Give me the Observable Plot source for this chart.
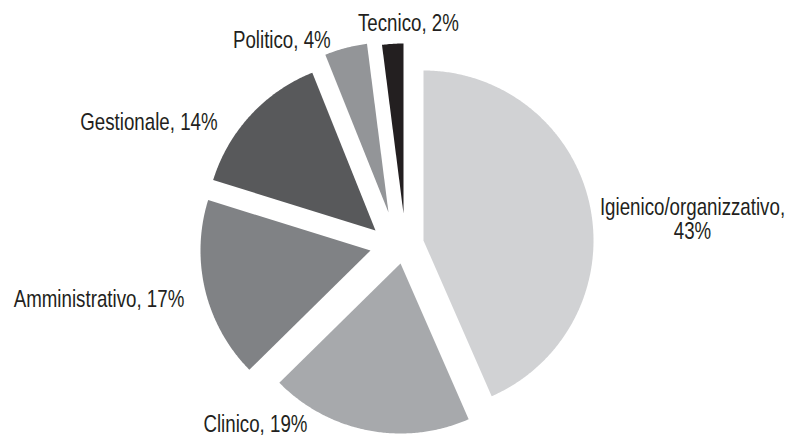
<!DOCTYPE html>
<html><head><meta charset="utf-8">
<script src="https://cdn.jsdelivr.net/npm/d3@7"></script>
<script src="https://cdn.jsdelivr.net/npm/@observablehq/plot@0.6"></script>
<style>
html,body{margin:0;padding:0;background:#fff;}
#chart svg{display:block;}
</style>
</head><body><div id="chart"></div>
<script>
// ---- data ----
const categories = ["Igienico/organizzativo", "Clinico", "Amministrativo", "Gestionale", "Politico", "Tecnico"];
const percentages = [43, 19, 17, 14, 4, 2];
const labels = ["Igienico/organizzativo,\n43%", "Clinico, 19%", "Amministrativo, 17%", "Gestionale, 14%", "Politico, 4%", "Tecnico, 2%"];

// ---- style / layout ----
const colors = ["#d1d2d4", "#a7a9ac", "#808285", "#58595b", "#939598", "#231f20"];
const W = 786, H = 435;
const CX = 400, CY = 246, R = 170;
// exploded-slice offsets (px) from the pie centre
const explode = [[23, -6], [0, 17], [-30, 4], [-25, -16], [-12, -34], [3, -33]];
// label offsets (px) from each slice's outer mid-arc point
const labelNudge = [[102.6, 13.7], [-112.9, -6], [-106.3, 8.3], [-101.7, 6.7], [-64, -8.1], [15.7, -21]];
const FONT = "'Liberation Sans', Arial, Helvetica, sans-serif";
const FS = 24;
const CONDENSE = 0.78;

const rows = categories.map((name, i) => ({name, value: percentages[i], label: labels[i], i}));
const arcs = d3.pie().sort(null).value(d => d.value).startAngle(0).endAngle(2 * Math.PI)(rows);

const pts = [];
const labelRows = [];
arcs.forEach(a => {
  const i = a.data.i;
  const mid = (a.startAngle + a.endAngle) / 2;
  const [ox, oy] = explode[i];
  pts.push({name: a.data.name, x: ox, y: oy});
  const n = Math.max(2, Math.ceil((a.endAngle - a.startAngle) / (Math.PI / 360)));
  for (let k = 0; k <= n; k++) {
    const t = a.startAngle + (a.endAngle - a.startAngle) * k / n;
    pts.push({name: a.data.name, x: ox + R * Math.sin(t), y: oy - R * Math.cos(t)});
  }
  labelRows.push({
    label: a.data.label,
    x: ox + R * Math.sin(mid) + labelNudge[i][0],
    y: oy - R * Math.cos(mid) + labelNudge[i][1]
  });
});

const chart = Plot.plot({
  width: W, height: H, margin: 0,
  x: {domain: [-CX, W - CX], range: [0, W], axis: null},
  y: {domain: [-CY, H - CY], range: [0, H], axis: null},
  color: {domain: categories, range: colors},
  style: {background: "#fff", overflow: "visible"},
  marks: [
    Plot.line(pts, {x: "x", y: "y", z: "name", fill: "name", stroke: "none", curve: "linear-closed"}),
    Plot.text(labelRows, {x: "x", y: "y", text: "label", fontSize: FS, fontFamily: FONT, fill: "#231f20",
      textAnchor: "middle", lineAnchor: "middle", lineHeight: 1})
  ]
});
// condensed type: squeeze the label glyphs horizontally around their anchors
chart.querySelectorAll("text").forEach(t => {
  const tr = t.getAttribute("transform");
  if (tr) {
    t.setAttribute("transform", tr + ` scale(${CONDENSE},1)`);
  } else {
    const x = +t.getAttribute("x") || 0, y = +t.getAttribute("y") || 0;
    t.removeAttribute("x"); t.removeAttribute("y");
    t.setAttribute("transform", `translate(${x},${y}) scale(${CONDENSE},1)`);
  }
});
document.getElementById("chart").appendChild(chart);
</script>
</body></html>
